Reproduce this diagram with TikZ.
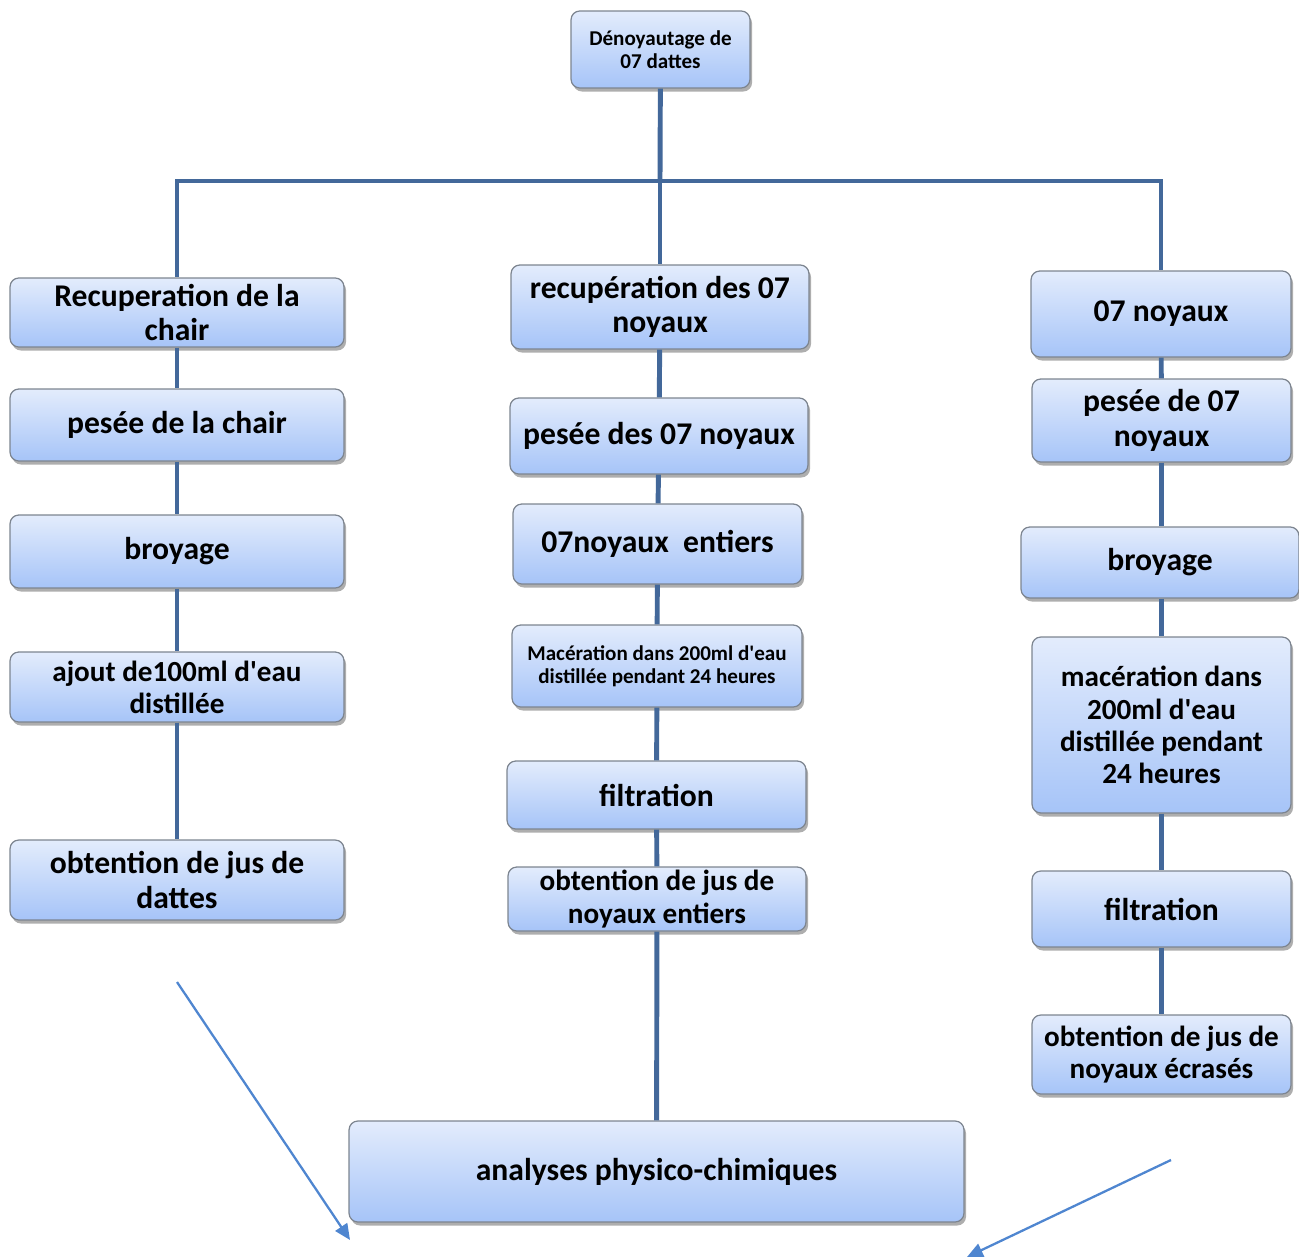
\documentclass[tikz,border=0pt]{standalone}
\usepackage{fontspec}
\setmainfont{Carlito}
\usepackage{tikz}
\usetikzlibrary{arrows.meta,shadows}

\definecolor{haut}{HTML}{E3ECFC}
\definecolor{bas}{HTML}{A6C4F8}
\definecolor{trait}{HTML}{43689A}
\definecolor{fleche}{HTML}{4F86D0}
\definecolor{bord}{HTML}{7D8590}

\tikzset{
  boite/.style={draw=bord, line width=0.7pt, rounded corners=5pt, top color=haut, bottom color=bas,
    align=center, inner sep=0pt, font=\bfseries\fontsize{18}{19.5}\selectfont,
    drop shadow={shadow xshift=1.2pt, shadow yshift=-2pt, opacity=0.45, fill=black!70}},
  petit/.style={font=\bfseries\fontsize{12}{13}\selectfont},
  moyen/.style={font=\bfseries\fontsize{16.6}{18.3}\selectfont},
  lien/.style={trait, line width=2.8pt},
  renvoi/.style={fleche, line width=1.3pt, -{Triangle[length=9pt,width=8pt]}}
}

\begin{document}
\begin{tikzpicture}[x=0.02cm,y=-0.02cm]
\useasboundingbox (0,0) rectangle (1299,1257);

% Depart
\node[boite, petit, minimum width=3.58cm, minimum height=1.54cm] (depart) at (660.5,49.5) {D\'enoyautage de\\07 dattes};

% Colonne gauche : chair
\node[boite, minimum width=6.68cm, minimum height=1.38cm] (chair1) at (177,312.5) {Recuperation de la\\chair};
\node[boite, minimum width=6.68cm, minimum height=1.44cm] (chair2) at (177,425) {pes\'ee de la chair};
\node[boite, minimum width=6.68cm, minimum height=1.46cm] (chair3) at (177,551.5) {broyage};
\node[boite, moyen, minimum width=6.68cm, minimum height=1.40cm] (chair4) at (177,687) {ajout de100ml d\textquotesingle eau\\distill\'ee};
\node[boite, minimum width=6.68cm, minimum height=1.60cm] (chair5) at (177,880) {obtention de jus de\\dattes};

% Colonne du milieu : noyaux entiers
\node[boite, minimum width=5.96cm, minimum height=1.68cm] (entier1) at (660,307) {recup\'eration des 07\\noyaux};
\node[boite, minimum width=5.96cm, minimum height=1.52cm] (entier2) at (659,436) {pes\'ee des 07 noyaux};
\node[boite, minimum width=5.78cm, minimum height=1.60cm] (entier3) at (657.5,544) {07noyaux\ \ entiers};
\node[boite, petit, minimum width=5.80cm, minimum height=1.64cm] (entier4) at (657,666) {Mac\'eration dans 200ml d\textquotesingle eau\\distill\'ee pendant 24 heures};
\node[boite, minimum width=5.98cm, minimum height=1.36cm] (entier5) at (656.5,795) {filtration};
\node[boite, moyen, minimum width=5.96cm, minimum height=1.28cm] (entier6) at (657,899) {obtention de jus de\\noyaux entiers};

% Colonne droite : noyaux ecrases
\node[boite, minimum width=5.20cm, minimum height=1.72cm] (ecrase1) at (1161,314) {07 noyaux};
\node[boite, minimum width=5.18cm, minimum height=1.66cm] (ecrase2) at (1161.5,420.5) {pes\'ee de 07\\noyaux};
\node[boite, minimum width=5.56cm, minimum height=1.42cm] (ecrase3) at (1160,562.5) {broyage};
\node[boite, moyen, minimum width=5.18cm, minimum height=3.52cm] (ecrase4) at (1161.5,725) {mac\'eration dans\\200ml d\textquotesingle eau\\distill\'ee pendant\\24 heures};
\node[boite, minimum width=5.18cm, minimum height=1.52cm] (ecrase5) at (1161.5,909) {filtration};
\node[boite, moyen, minimum width=5.18cm, minimum height=1.58cm] (ecrase6) at (1161.5,1054.5) {obtention de jus de\\noyaux \'ecras\'es};

% Analyses
\node[boite, minimum width=12.30cm, minimum height=2.02cm] (analyses) at (656.5,1171.5) {analyses physico-chimiques};

% Arborescence
\coordinate (noeud) at (660,181);
\draw[lien] (depart) -- (noeud);
\draw[lien] (noeud) -| (chair1);
\draw[lien] (noeud) -| (ecrase1);
\draw[lien] (noeud) -- (entier1);

\draw[lien] (chair1) -- (chair2);
\draw[lien] (chair2) -- (chair3);
\draw[lien] (chair3) -- (chair4);
\draw[lien] (chair4) -- (chair5);

\draw[lien] (entier1) -- (entier2);
\draw[lien] (entier2) -- (entier3);
\draw[lien] (entier3) -- (entier4);
\draw[lien] (entier4) -- (entier5);
\draw[lien] (entier5) -- (entier6);
\draw[lien] (entier6) -- (analyses);

\draw[lien] (ecrase1) -- (ecrase2);
\draw[lien] (ecrase2) -- (ecrase3.north -| ecrase2);
\draw[lien] (ecrase3.south -| ecrase4) -- (ecrase4);
\draw[lien] (ecrase4) -- (ecrase5);
\draw[lien] (ecrase5) -- (ecrase6);

% Fleches vers les analyses
\coordinate (gdebut) at (177,982);
\coordinate (gfin) at (350,1240);
\coordinate (ddebut) at (1171,1160);
\coordinate (dfin) at (967,1257);
\draw[renvoi] (gdebut) -- (gfin);
\draw[renvoi] (ddebut) -- (dfin);
\end{tikzpicture}
\end{document}
